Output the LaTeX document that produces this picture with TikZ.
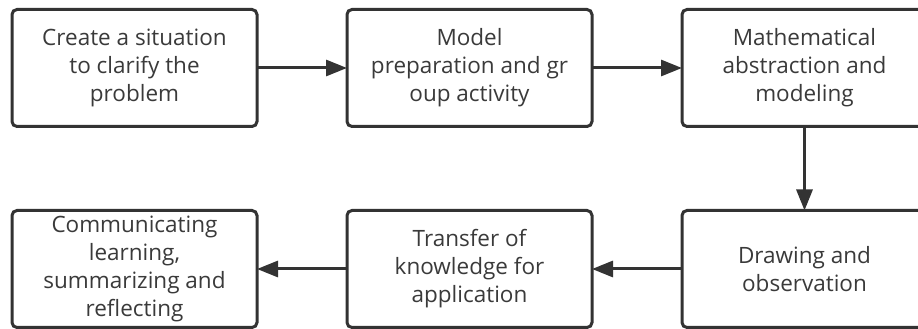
\documentclass[tikz,border=0pt]{standalone}
\usepackage{fontspec}
\setmainfont{Open Sans}
\usetikzlibrary{positioning,arrows.meta}
\definecolor{trazo}{HTML}{333333}
\definecolor{texto}{HTML}{3A3A3A}
\tikzset{
    paso/.style={draw=trazo, line width=3pt, rounded corners=5pt, fill=white,
        minimum width=245pt, minimum height=117pt, outer sep=0pt,
        align=center, text=texto,
        font=\fontsize{22.5pt}{28pt}\selectfont},
    flecha/.style={draw=trazo, line width=3pt,
        -{Triangle[length=21pt,width=16pt]}}
}
\begin{document}
\begin{tikzpicture}[x=1pt,y=1pt]
    % Definir la separacion entre cajas
    \def\sep{90pt}

    % Recortar al marco de la imagen
    \clip (0,0) rectangle (918,329);

    % Fila superior
    \node[paso] (situacion) at (134.5,261) {Create a situation\\to clarify the\\problem};
    \node[paso, right=\sep of situacion] (modelo) {Model\\preparation and gr\\oup activity};
    \node[paso, right=\sep of modelo] (abstraccion) {Mathematical\\abstraction and\\modeling};

    % Fila inferior
    \node[paso] (comunicar) at (134.5,60) {Communicating\\learning,\\summarizing and\\reflecting};
    \node[paso, right=\sep of comunicar] (transferir) {Transfer of\\knowledge for\\application};
    \node[paso, right=\sep of transferir] (dibujo) {Drawing and\\observation};

    % Dibujar las flechas entre los pasos
    \draw[flecha] (situacion) -- (modelo);
    \draw[flecha] (modelo) -- (abstraccion);
    \draw[flecha] (abstraccion) -- (dibujo);
    \draw[flecha] (dibujo) -- (transferir);
    \draw[flecha] (transferir) -- (comunicar);
\end{tikzpicture}
\end{document}
